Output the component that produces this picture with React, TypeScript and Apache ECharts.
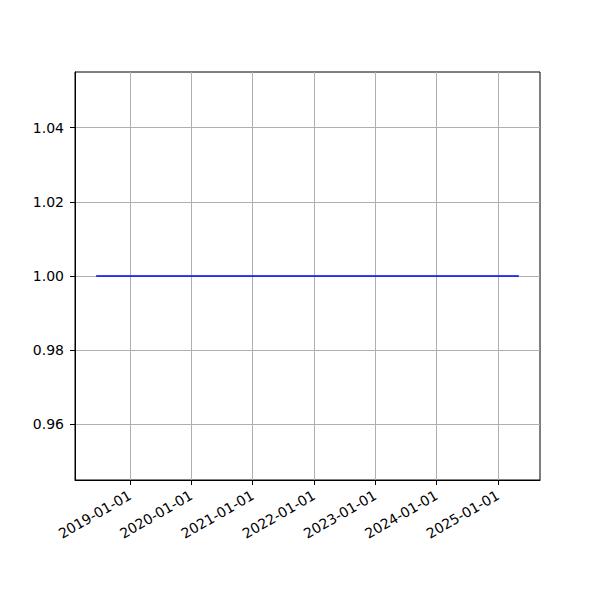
import React, { useEffect, useRef } from "react";
import * as echarts from "echarts";

const dates: string[] = [
  "2018-06-13",
  "2019-01-01",
  "2020-01-01",
  "2021-01-01",
  "2022-01-01",
  "2023-01-01",
  "2024-01-01",
  "2025-01-01",
  "2025-05-06",
];
const values: number[] = [1, 1, 1, 1, 1, 1, 1, 1, 1];
const xTickLabels: string[] = [
  "2019-01-01",
  "2020-01-01",
  "2021-01-01",
  "2022-01-01",
  "2023-01-01",
  "2024-01-01",
  "2025-01-01",
];
const yTicks: number[] = [0.96, 0.98, 1.0, 1.02, 1.04];

const toTs = (s: string) => {
  const [y, m, d] = s.split("-").map(Number);
  return Date.UTC(y, m - 1, d);
};

const pad = (n: number) => (n < 10 ? "0" + n : "" + n);
const fmtDate = (v: number) => {
  const d = new Date(v);
  return `${d.getUTCFullYear()}-${pad(d.getUTCMonth() + 1)}-${pad(d.getUTCDate())}`;
};

export default function App() {
  const ref = useRef<HTMLDivElement>(null);
  useEffect(() => {
    if (!ref.current) return;
    const chart = echarts.init(ref.current, undefined, { renderer: "svg" });
    const ts = dates.map(toTs);
    const s = ts[0];
    const e = ts[ts.length - 1];
    const span = e - s;
    const xMin = s - 0.05 * span;
    const xMax = e + 0.05 * span;
    const xTickTs = xTickLabels.map(toTs);
    const font = "DejaVu Sans";
    chart.setOption({
      animation: false,
      backgroundColor: "#ffffff",
      textStyle: { fontFamily: font },
      grid: {
        left: 75,
        right: 60,
        top: 72,
        bottom: 120,
        show: true,
        borderColor: "#000000",
        borderWidth: 1,
        containLabel: false,
      },
      xAxis: {
        type: "value",
        scale: true,
        min: xMin,
        max: xMax,
        axisLine: { show: true, onZero: false, lineStyle: { color: "#000", width: 1 } },
        axisTick: {
          show: true,
          length: 5,
          inside: false,
          lineStyle: { color: "#000", width: 1 },
          customValues: xTickTs,
        },
        axisLabel: {
          show: true,
          rotate: 30,
          margin: 14,
          color: "#000",
          fontSize: 14,
          fontFamily: font,
          customValues: xTickTs,
          formatter: (v: number) => fmtDate(v),
          hideOverlap: false,
        },
        splitLine: { show: true, lineStyle: { color: "#b0b0b0", width: 1 } },
      },
      yAxis: {
        type: "value",
        min: 0.945,
        max: 1.055,
        axisLine: { show: true, onZero: false, lineStyle: { color: "#000", width: 1 } },
        axisTick: {
          show: true,
          length: 5,
          inside: false,
          lineStyle: { color: "#000", width: 1 },
          customValues: yTicks,
        },
        axisLabel: {
          show: true,
          margin: 11,
          color: "#000",
          fontSize: 14,
          fontFamily: font,
          customValues: yTicks,
          formatter: (v: number) => v.toFixed(2),
        },
        splitLine: { show: true, lineStyle: { color: "#b0b0b0", width: 1 } },
      },
      series: [
        {
          type: "line",
          data: ts.map((t, i) => [t, values[i]]),
          showSymbol: false,
          symbol: "none",
          lineStyle: { color: "#0000ff", width: 1.5 },
          itemStyle: { color: "#0000ff" },
        },
      ],
    });
    return () => chart.dispose();
  }, []);
  return <div ref={ref} style={{ width: 600, height: 600, position: "absolute", left: 0, top: 0 }} />;
}
